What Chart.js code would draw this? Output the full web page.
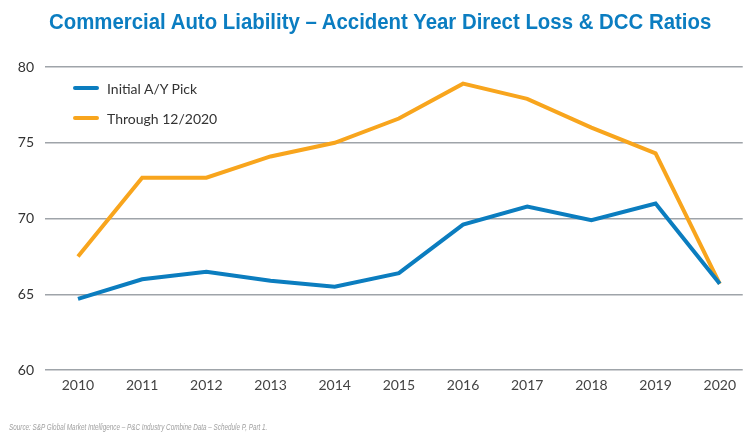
<!DOCTYPE html>
<html>
<head>
<meta charset="utf-8">
<script src="https://cdn.jsdelivr.net/npm/chart.js@4.4.0/dist/chart.umd.min.js"></script>
<style>
  html, body { margin: 0; padding: 0; background: #fff; }
  #wrap { position: relative; width: 743px; height: 433px; overflow: hidden; }
  #title { position: absolute; left: 49px; top: 11px; white-space: nowrap; font-family: "Liberation Sans", Arial, sans-serif; font-weight: bold; font-size: 22px; line-height: 22px; color: #0b7dc1; transform: scaleX(0.927); transform-origin: left top; }
  #legend { position: absolute; left: 73px; top: 73px; font-family: Lato, sans-serif; font-size: 14px; color: #333; }
  .item { display: flex; align-items: center; height: 30px; }
  .swatch { width: 26px; height: 4px; border-radius: 2px; margin-right: 8px; }
  #source { position: absolute; left: 9px; top: 422px; white-space: nowrap; font-family: "Liberation Sans", sans-serif; font-style: italic; font-size: 8.5px; color: #a0a0a0; transform: scaleX(0.745); transform-origin: left top; }
</style>
</head>
<body>
<div id="wrap">
  <canvas id="lossChart" width="743" height="433"></canvas>
  <div id="title">Commercial Auto Liability – Accident Year Direct Loss &amp; DCC Ratios</div>
  <div id="legend"></div>
  <div id="source">Source: S&amp;P Global Market Intelligence – P&amp;C Industry Combine Data – Schedule P, Part 1.</div>
</div>
<script>
  "use strict";

  const years = [2010, 2011, 2012, 2013, 2014, 2015, 2016, 2017, 2018, 2019, 2020];
  const initialPick = [64.7, 66.0, 66.5, 65.9, 65.5, 66.4, 69.6, 70.8, 69.9, 71.0, 65.7];
  const through2020 = [67.5, 72.7, 72.7, 74.1, 75.0, 76.6, 78.9, 77.9, 76.0, 74.3, 65.7];
  const yTicks = [60, 65, 70, 75, 80];

  const seriesNames = ['Initial A/Y Pick', 'Through 12/2020'];
  const seriesColors = ['#0b7dbf', '#f8a51d'];

  function toPoints(values) {
    return values.map(function (v, i) { return { x: years[i], y: v }; });
  }

  const legend = document.getElementById('legend');
  seriesNames.forEach(function (name, i) {
    const row = document.createElement('div');
    row.className = 'item';
    row.innerHTML = '<span class="swatch" style="background:' + seriesColors[i] + '"></span>' + name;
    legend.appendChild(row);
  });

  const ctx = document.getElementById('lossChart').getContext('2d');
  const lossChart = new Chart(ctx, {
    type: 'line',
    data: {
      datasets: [{
        label: seriesNames[0],
        data: toPoints(initialPick),
        borderColor: seriesColors[0],
        borderWidth: 4,
        pointRadius: 0,
        tension: 0
      }, {
        label: seriesNames[1],
        data: toPoints(through2020),
        borderColor: seriesColors[1],
        borderWidth: 4,
        pointRadius: 0,
        tension: 0
      }]
    },
    options: {
      responsive: false,
      animation: false,
      layout: { padding: { left: 0, right: 0, top: 67, bottom: 32 } },
      plugins: {
        legend: { display: false },
        tooltip: { enabled: false },
        title: { display: false }
      },
      scales: {
        x: {
          type: 'linear',
          min: 2009.486,
          max: 2020.358,
          grid: { display: false, drawTicks: false },
          border: { display: false },
          afterBuildTicks: function (scale) {
            scale.ticks = years.map(function (y) { return { value: y }; });
          },
          ticks: {
            padding: 7,
            color: '#444',
            font: { family: 'Lato, sans-serif', size: 14 },
            callback: function (v) { return String(v); }
          }
        },
        y: {
          min: 60,
          max: 80,
          afterBuildTicks: function (scale) {
            scale.ticks = yTicks.map(function (v) { return { value: v }; });
          },
          afterFit: function (scale) { scale.width = 45; },
          grid: { color: '#9fa4a9', lineWidth: 1.5, drawTicks: false },
          border: { display: false },
          ticks: {
            padding: 11,
            color: '#333',
            font: { family: 'Lato, sans-serif', size: 14 }
          }
        }
      }
    }
  });
</script>
</body>
</html>
